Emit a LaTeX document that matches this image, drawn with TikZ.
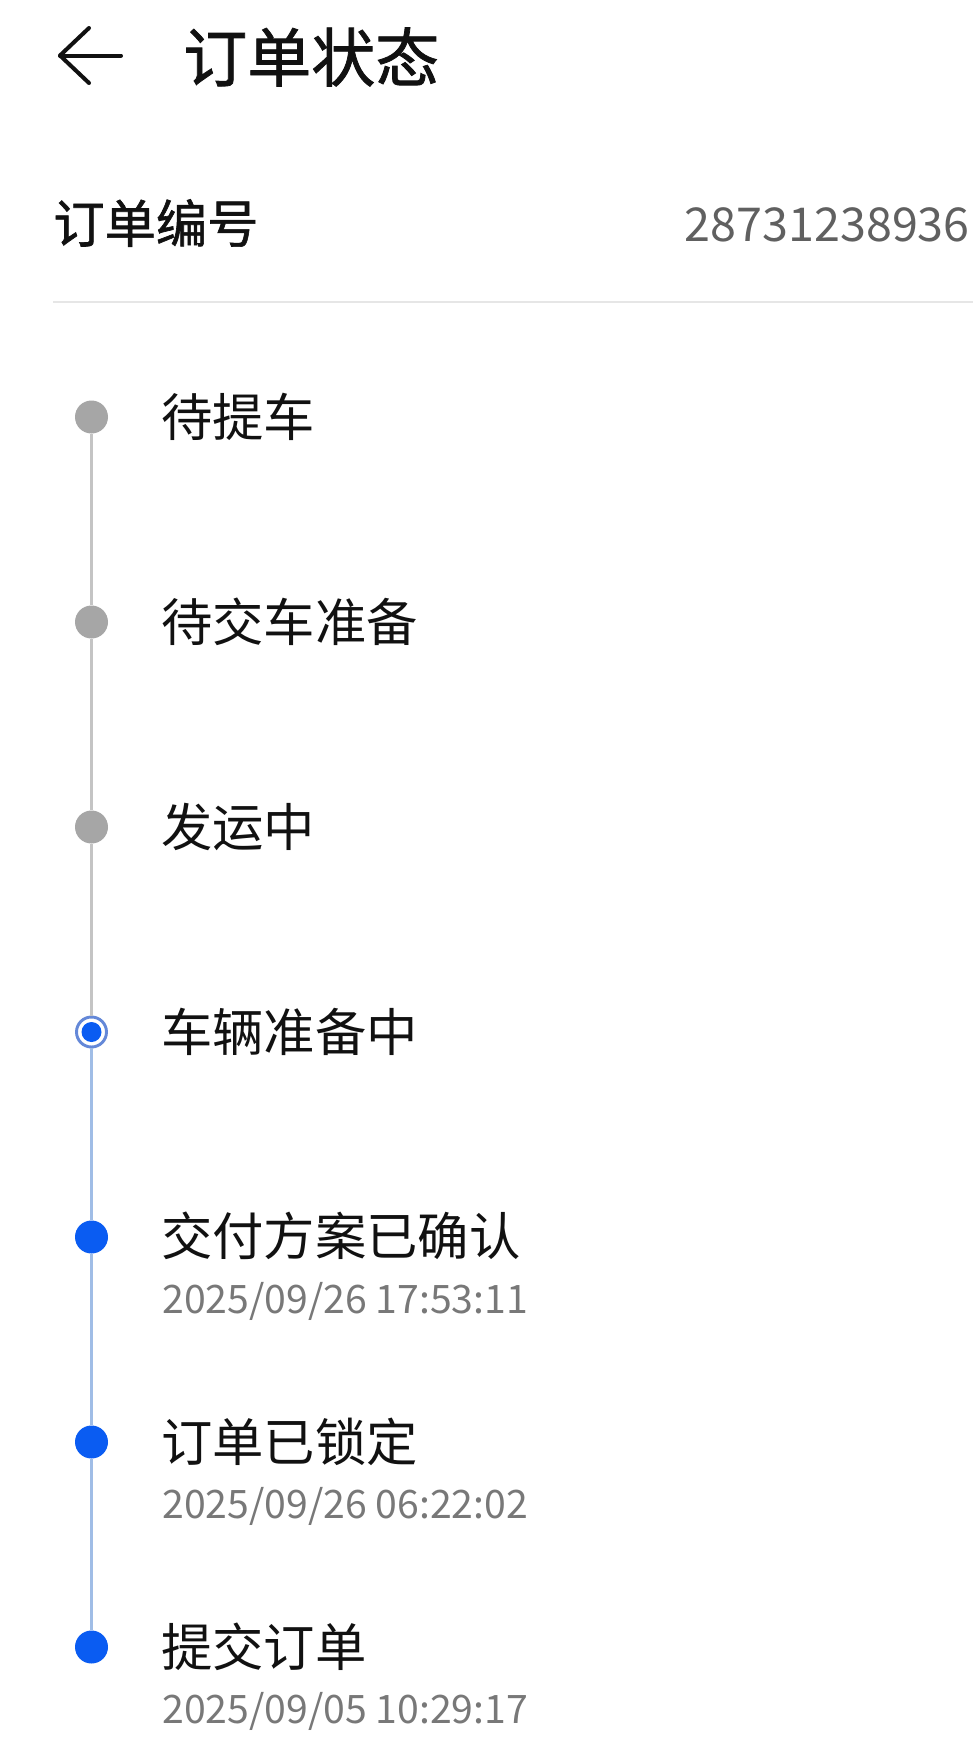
\documentclass[tikz,border=0pt]{standalone}
\usepackage{fontspec}
\setmainfont{Noto Sans CJK SC}
\newfontfamily\cjk{Noto Sans CJK SC}
\newfontfamily\cjkmed[FakeBold=1.2]{Noto Sans CJK SC}
\newfontfamily\numfont{Noto Sans CJK SC}
\definecolor{txtblack}{HTML}{111111}
\definecolor{numgray}{HTML}{606060}
\definecolor{dategray}{HTML}{787878}
\definecolor{sepgray}{HTML}{E6E6E6}
\definecolor{dotgrayc}{HTML}{A6A6A6}
\definecolor{linegrayc}{HTML}{C4C4C4}
\definecolor{blued}{HTML}{0A5CF2}
\definecolor{linebluec}{HTML}{A0BDE6}
\definecolor{ringc}{HTML}{6488D8}
\tikzset{
  title/.style={anchor=west,inner sep=0pt,font=\cjkmed\fontsize{48pt}{52pt}\selectfont,text=txtblack},
  headlabel/.style={anchor=west,inner sep=0pt,font=\cjkmed\fontsize{38.5pt}{42pt}\selectfont,text=txtblack},
  rowlabel/.style={anchor=west,inner sep=0pt,font=\cjk\fontsize{38.5pt}{42pt}\selectfont,text=txtblack},
  numtext/.style={anchor=east,inner sep=0pt,font=\numfont\fontsize{35pt}{39pt}\selectfont,text=numgray},
  datetext/.style={anchor=west,inner sep=0pt,font=\numfont\fontsize{29.4pt}{33pt}\selectfont,text=dategray},
  dotgray/.style={circle,fill=dotgrayc,draw=none,minimum size=24.75pt,inner sep=0pt},
  dotblue/.style={circle,fill=blued,draw=none,minimum size=24.75pt,inner sep=0pt},
  dotcur/.style={circle,fill=white,draw=ringc,line width=2.2pt,minimum size=22.5pt,inner sep=0pt},
  dotinner/.style={circle,fill=blued,draw=none,minimum size=15pt,inner sep=0pt},
  tlgray/.style={draw=linegrayc,line width=1.6pt},
  tlblue/.style={draw=linebluec,line width=1.6pt},
  backarrow/.style={draw=txtblack,line width=3pt,line cap=round,line join=round},
}
\begin{document}
\begin{tikzpicture}[x=0.75pt,y=-0.75pt]
\useasboundingbox[fill=white] (0,0) rectangle (973,1750);
% header
\coordinate (atip) at (60,55.5);
\coordinate (atop) at (89,28);
\coordinate (abot) at (89,83);
\coordinate (aend) at (121,55.5);
\draw[backarrow] (atop) -- (atip) -- (abot);
\draw[backarrow] (atip) -- (aend);
\node[title] (ttl) at (183,57) {订单状态};
\node[headlabel] (onum) at (53,223) {订单编号};
\node[numtext] (onumv) at (970,224.5) {28731238936};
\coordinate (sepL) at (53,302);
\coordinate (sepR) at (973,302);
\draw[draw=sepgray,line width=1.5pt] (sepL) -- (sepR);
% dots
\node[dotgray] (d1) at (91.5,417) {};
\node[dotgray] (d2) at (91.5,622) {};
\node[dotgray] (d3) at (91.5,827) {};
\node[dotcur] (d4) at (91.5,1032) {};
\node[dotinner] (d4i) at (d4) {};
\node[dotblue] (d5) at (91.5,1237) {};
\node[dotblue] (d6) at (91.5,1442) {};
\node[dotblue] (d7) at (91.5,1647) {};
% lines
\draw[tlgray] (d1) -- (d2);
\draw[tlgray] (d2) -- (d3);
\draw[tlgray] (d3) -- (d4);
\draw[tlblue] (d4) -- (d5);
\draw[tlblue] (d5) -- (d6);
\draw[tlblue] (d6) -- (d7);
% labels
\node[rowlabel] (l1) at (161,417) {待提车};
\node[rowlabel] (l2) at (161,622) {待交车准备};
\node[rowlabel] (l3) at (161,827) {发运中};
\node[rowlabel] (l4) at (161,1032) {车辆准备中};
\node[rowlabel] (l5) at (161,1236) {交付方案已确认};
\node[datetext] (t5) at (162,1301) {2025/09/26 17:53:11};
\node[rowlabel] (l6) at (161,1442) {订单已锁定};
\node[datetext] (t6) at (162,1506) {2025/09/26 06:22:02};
\node[rowlabel] (l7) at (161,1647) {提交订单};
\node[datetext] (t7) at (162,1711) {2025/09/05 10:29:17};
\end{tikzpicture}
\end{document}
